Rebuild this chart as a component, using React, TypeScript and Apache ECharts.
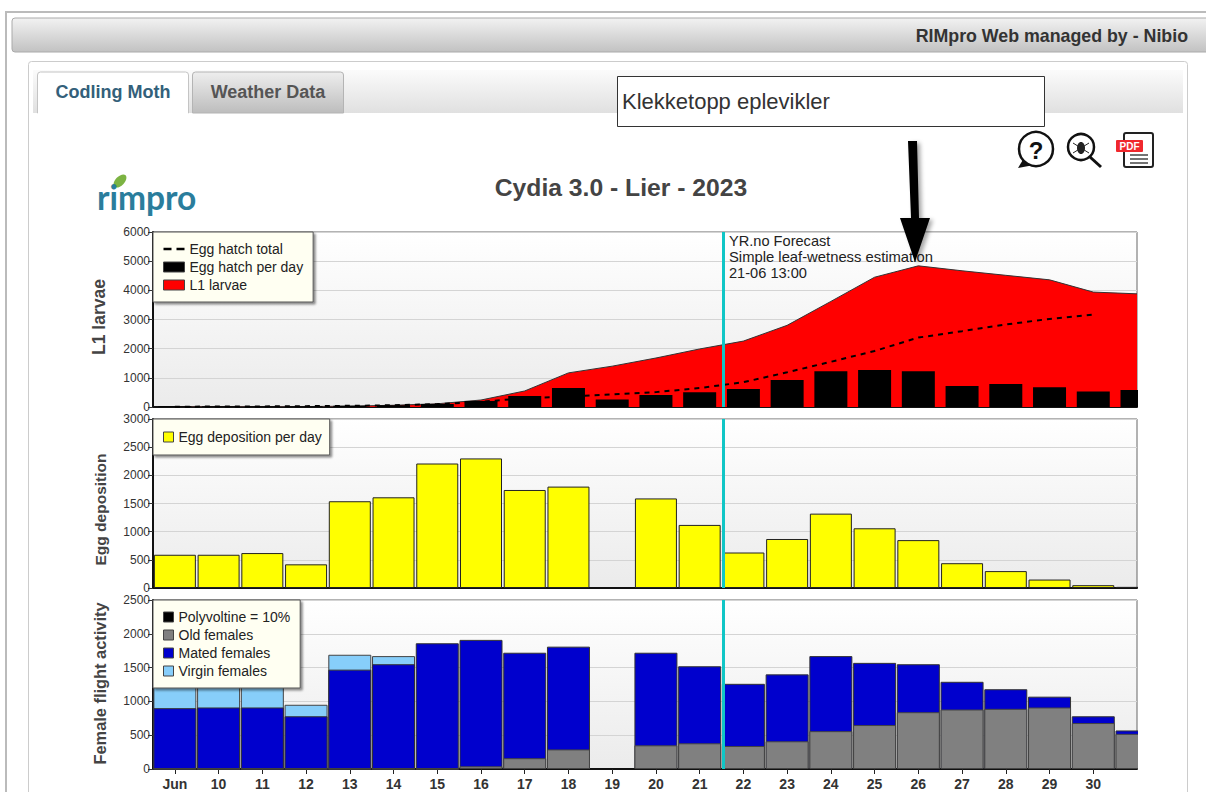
import React, { useEffect, useRef } from "react";
import * as echarts from "echarts";

const dayLabels = ["Jun","10","11","12","13","14","15","16","17","18","19","20","21","22","23","24","25","26","27","28","29","30"];
const dayIndex = [0,1,2,3,4,5,6,7,8,9,10,11,12,13,14,15,16,17,18,19,20,21];
const pointIndex = [...dayIndex, 22];

const l1Larvae = [5,5,8,15,30,60,110,240,550,1170,1400,1680,1990,2260,2800,3620,4450,4840,4670,4515,4360,3940,3880];
const eggHatchTotal = [10,15,20,30,40,60,100,180,300,360,430,510,650,850,1190,1550,1920,2380,2600,2830,3020,3170,null];
const eggHatchPerDay = [30,30,30,30,40,60,100,210,380,650,260,410,510,620,930,1230,1270,1230,720,790,680,530,580];
const eggDeposition = [590,590,620,420,1540,1610,2210,2300,1740,1800,null,1590,1120,630,870,1320,1060,850,440,300,150,50,20];
// Female flight activity, read as the height each layer reaches in the pile
const oldFemalesTop = [0,0,0,0,0,0,0,40,160,290,null,350,380,340,410,560,650,840,880,890,910,680,520];
const matedFemalesTop = [900,910,910,780,1470,1550,1860,1910,1720,1810,null,1720,1520,1260,1400,1670,1570,1550,1290,1180,1070,780,570];
const virginFemalesTop = [1450,1450,1450,950,1690,1670,null,null,null,null,null,null,null,null,null,null,null,null,null,null,null,null,null];
const polyvoltine: (number | null)[] = [];

const forecastAt = 12.53;
const AXIS_FONT = "Liberation Sans, Arial, sans-serif";

const pairs = (v: (number | null)[]) => pointIndex.map((x, i) => [x, v[i]]);

function App() {
  const ref = useRef<HTMLDivElement>(null);
  useEffect(() => {
    document.body.style.margin = "0";
    const chart = echarts.init(ref.current!, null, { renderer: "svg" });
    const panelFill = {
      type: "linear", x: 0, y: 0, x2: 0, y2: 1,
      colorStops: [{ offset: 0, color: "#ffffff" }, { offset: 1, color: "#ebebeb" }],
    };
    const grids = [
      { left: 153, width: 984, top: 232, height: 175 },
      { left: 153, width: 984, top: 419, height: 169 },
      { left: 153, width: 984, top: 600, height: 169 },
    ].map((g) => ({ ...g, show: true, backgroundColor: panelFill, borderColor: "#666", borderWidth: 1 }));

    const xAxis = [0, 1, 2].map((i) => ({
      type: "value", gridIndex: i, min: -0.5, max: 22, splitLine: { show: false },
      axisLine: { show: true, onZero: false, lineStyle: { color: "#111", width: 2 } },
      axisTick: { show: i === 2, length: 5, customValues: dayIndex, lineStyle: { color: "#222" } },
      axisLabel: {
        show: i === 2, customValues: dayIndex, margin: 8, fontFamily: AXIS_FONT,
        fontSize: 14, fontWeight: "bold", color: "#333",
        formatter: (v: number) => dayLabels[v] ?? "",
      },
    }));
    const yNames = ["L1 larvae", "Egg deposition", "Female flight activity"];
    const yNameSize = [17.5, 15.5, 16.4];
    const yNamePad = [[0, 0, 0, 5], [0, 12, 0, 0], [0, 0, 0, 2]];
    const yMax = [6000, 3000, 2500];
    const yStep = [1000, 500, 500];
    const yAxis = [0, 1, 2].map((i) => ({
      type: "value", gridIndex: i, min: 0, max: yMax[i], interval: yStep[i],
      name: yNames[i], nameLocation: "middle", nameGap: 45,
      nameTextStyle: { fontFamily: AXIS_FONT, fontSize: yNameSize[i], fontWeight: "bold", color: "#444", padding: yNamePad[i] },
      axisLine: { show: true, onZero: false, lineStyle: { color: "#111", width: 2 } },
      axisTick: { show: true, length: 5, lineStyle: { color: "#333" } },
      axisLabel: { margin: 3, fontFamily: AXIS_FONT, fontSize: 12, color: "#333", formatter: (v: number) => String(v) },
      splitLine: { show: true, lineStyle: { color: "#d4d4d4", width: 1 } },
    }));
    const forecastLine = {
      silent: true, symbol: "none", label: { show: false },
      lineStyle: { color: "#10c6c6", width: 3, type: "solid" },
      data: [{ xAxis: forecastAt }],
    };
    const legendBase = {
      left: 153, orient: "vertical", selectedMode: false, backgroundColor: "#fffff2",
      borderColor: "#555", borderWidth: 1, shadowColor: "rgba(0,0,0,0.45)", shadowBlur: 2,
      shadowOffsetX: 2, shadowOffsetY: 2, itemGap: 2, itemHeight: 10,
      textStyle: { fontFamily: AXIS_FONT, fontSize: 14, color: "#222", lineHeight: 16 },
    };
    const box = (color: string, border = "#444") => ({
      icon: "rect", itemStyle: { color, borderColor: border, borderWidth: 1 },
    });

    const shapes: any[] = [
      // page chrome
      { type: "rect", z: -20, shape: { x: 6, y: 12, width: 1210, height: 800 }, style: { fill: "#fff", stroke: "#bbb", lineWidth: 2 } },
      { type: "rect", z: -19, shape: { x: 12, y: 18, width: 1200, height: 34, r: 3 }, style: { stroke: "#aaa", fill: { type: "linear", x: 0, y: 0, x2: 0, y2: 1, colorStops: [{ offset: 0, color: "#f2f2f2" }, { offset: 1, color: "#c2c2c2" }] } } },
      { type: "text", z: -18, style: { x: 1188, y: 36, text: "RIMpro Web managed by - Nibio", align: "right", verticalAlign: "middle", font: `bold 17.8px ${AXIS_FONT}`, fill: "#333" } },
      { type: "rect", z: -17, shape: { x: 28.5, y: 61.5, width: 1159, height: 760, r: 3 }, style: { fill: "#fff", stroke: "#ccc" } },
      { type: "rect", z: -16, shape: { x: 33, y: 70, width: 1150, height: 43 }, style: { fill: { type: "linear", x: 0, y: 0, x2: 0, y2: 1, colorStops: [{ offset: 0, color: "#fbfbfb" }, { offset: 1, color: "#e0e0e0" }] } } },
      { type: "rect", z: -15, shape: { x: 37.5, y: 72, width: 151, height: 41, r: [3, 3, 0, 0] }, style: { fill: "#fff", stroke: "#c4c4c4" } },
      { type: "rect", z: -15, shape: { x: 192.5, y: 72, width: 151, height: 41, r: [3, 3, 0, 0] }, style: { stroke: "#b4b4b4", fill: { type: "linear", x: 0, y: 0, x2: 0, y2: 1, colorStops: [{ offset: 0, color: "#eeeeee" }, { offset: 1, color: "#bdbdbd" }] } } },
      { type: "rect", z: -15, shape: { x: 38, y: 110, width: 150, height: 6 }, style: { fill: "#fff" } },
      { type: "text", z: -14, style: { x: 113, y: 92, text: "Codling Moth", align: "center", verticalAlign: "middle", font: `bold 18px ${AXIS_FONT}`, fill: "#33607a" } },
      { type: "text", z: -14, style: { x: 268, y: 92, text: "Weather Data", align: "center", verticalAlign: "middle", font: `bold 18px ${AXIS_FONT}`, fill: "#555" } },
      { type: "rect", z: -13, shape: { x: 617.5, y: 76.5, width: 427, height: 50 }, style: { fill: "#fff", stroke: "#333" } },
      { type: "text", z: -12, style: { x: 622, y: 101, text: "Klekketopp eplevikler", verticalAlign: "middle", font: `22px ${AXIS_FONT}`, fill: "#333" } },
      // logo
      { type: "ellipse", z: -12, rotation: 0.8, x: 120, y: 181, shape: { cx: 0, cy: 0, rx: 8, ry: 4.5 }, style: { fill: "#7cb342" } },
      { type: "text", z: -12, style: { x: 97, y: 197, text: "rimpro", verticalAlign: "middle", font: "bold 33.5px Lato, sans-serif", fill: "#2a7d9c" } },
      // help icon
      { type: "polygon", z: -12, shape: { points: [[1024, 158], [1018, 168], [1034, 165]] }, style: { fill: "#111" } },
      { type: "circle", z: -11, shape: { cx: 1036, cy: 149, r: 17 }, style: { fill: "#fff", stroke: "#111", lineWidth: 2.5 } },
      { type: "text", z: -10, style: { x: 1036, y: 150, text: "?", align: "center", verticalAlign: "middle", font: `bold 24px ${AXIS_FONT}`, fill: "#111" } },
      // lens icon
      { type: "line", z: -12, shape: { x1: 1090, y1: 157, x2: 1101, y2: 167 }, style: { stroke: "#111", lineWidth: 3 } },
      { type: "circle", z: -11, shape: { cx: 1081, cy: 147, r: 13 }, style: { fill: "#fff", stroke: "#111", lineWidth: 2.5 } },
      { type: "ellipse", z: -10, shape: { cx: 1081, cy: 148, rx: 4, ry: 6 }, style: { fill: "#222" } },
      { type: "line", z: -10, shape: { x1: 1073, y1: 143, x2: 1089, y2: 153 }, style: { stroke: "#222", lineWidth: 1 } },
      { type: "line", z: -10, shape: { x1: 1089, y1: 143, x2: 1073, y2: 153 }, style: { stroke: "#222", lineWidth: 1 } },
      // pdf icon
      { type: "rect", z: -12, shape: { x: 1124, y: 133, width: 29, height: 34, r: 2 }, style: { fill: "#fff", stroke: "#222", lineWidth: 2 } },
      { type: "line", z: -11, shape: { x1: 1130, y1: 155, x2: 1148, y2: 155 }, style: { stroke: "#444", lineWidth: 1.5 } },
      { type: "line", z: -11, shape: { x1: 1130, y1: 159, x2: 1148, y2: 159 }, style: { stroke: "#444", lineWidth: 1.5 } },
      { type: "line", z: -11, shape: { x1: 1130, y1: 163, x2: 1148, y2: 163 }, style: { stroke: "#444", lineWidth: 1.5 } },
      { type: "rect", z: -11, shape: { x: 1116, y: 140, width: 27, height: 12, r: 1 }, style: { fill: "#f0282d" } },
      { type: "text", z: -10, style: { x: 1129.5, y: 146.5, text: "PDF", align: "center", verticalAlign: "middle", font: `bold 10px ${AXIS_FONT}`, fill: "#fff" } },
      // the last, unfinished day is cut off at the plot's right edge
      { type: "rect", z: 30, shape: { x: 1138, y: 225, width: 30, height: 552 }, style: { fill: "#fff" } },
      // forecast note
      { type: "text", z: 40, style: { x: 729, y: 240.5, text: "YR.no Forecast", verticalAlign: "middle", font: `14.6px ${AXIS_FONT}`, fill: "#222" } },
      { type: "text", z: 40, style: { x: 729, y: 256.5, text: "Simple leaf-wetness estimation", verticalAlign: "middle", font: `14.8px ${AXIS_FONT}`, fill: "#222" } },
      { type: "text", z: 40, style: { x: 729, y: 273, text: "21-06 13:00", verticalAlign: "middle", font: `14.6px ${AXIS_FONT}`, fill: "#222" } },
      // arrow
      { type: "polygon", z: 50, shape: { points: [[908, 141], [917, 141], [919, 218], [930, 218], [915, 262], [900, 218], [911, 218]] }, style: { fill: "#000", shadowBlur: 4, shadowColor: "rgba(0,0,0,0.35)", shadowOffsetX: 3, shadowOffsetY: 2 } },
    ];

    const femaleBar = { type: "bar", xAxisIndex: 2, yAxisIndex: 2, z: 3, barWidth: 43, barGap: "-100%" };

    chart.setOption({
      animation: false,
      backgroundColor: "#fff",
      tooltip: { show: false },
      title: {
        text: "Cydia 3.0 - Lier - 2023", left: 616, top: 170, textAlign: "center",
        textStyle: { fontFamily: AXIS_FONT, fontSize: 24.7, fontWeight: "bold", color: "#444" },
      },
      grid: grids, xAxis, yAxis,
      legend: [
        { ...legendBase, top: 232, padding: [9, 10, 9, 10], itemWidth: 21,
          data: [
            { name: "Egg hatch total", icon: "path://M0 4h8v2.4H0z M13 4h8v2.4h-8z", itemStyle: { color: "#000" } },
            { name: "Egg hatch per day", ...box("#000") },
            { name: "L1 larvae", ...box("#ff0000") },
          ] },
        { ...legendBase, top: 419, padding: [10, 8, 10, 10], itemWidth: 10,
          data: [{ name: "Egg deposition per day", ...box("#ffff00") }] },
        { ...legendBase, top: 600, padding: [9, 10, 9, 10], itemWidth: 10,
          data: [
            { name: "Polyvoltine = 10%", ...box("#000") },
            { name: "Old females", ...box("#808080") },
            { name: "Mated females", ...box("#0000cd") },
            { name: "Virgin females", ...box("#87cefa") },
          ] },
      ],
      graphic: { elements: shapes },
      series: [
        { name: "L1 larvae", type: "line", xAxisIndex: 0, yAxisIndex: 0, z: 2, data: pairs(l1Larvae), symbol: "none",
          lineStyle: { color: "#333", width: 1 }, areaStyle: { color: "#ff0000", opacity: 1 } },
        { name: "Egg hatch total", type: "line", xAxisIndex: 0, yAxisIndex: 0, z: 3, data: pairs(eggHatchTotal), symbol: "none",
          itemStyle: { color: "#000" }, lineStyle: { color: "#000", width: 2, type: [5, 5] } },
        { name: "Egg hatch per day", type: "bar", xAxisIndex: 0, yAxisIndex: 0, z: 4, barWidth: 33, data: pairs(eggHatchPerDay),
          itemStyle: { color: "#000" }, markLine: forecastLine },
        { name: "Egg deposition per day", type: "bar", xAxisIndex: 1, yAxisIndex: 1, z: 3, barWidth: 42, data: pairs(eggDeposition),
          itemStyle: { color: "#ffff00", borderColor: "#222", borderWidth: 1 }, markLine: forecastLine },
        { ...femaleBar, name: "Virgin females", data: pairs(virginFemalesTop),
          itemStyle: { color: "#87cefa", borderColor: "#444", borderWidth: 1 }, markLine: forecastLine },
        { ...femaleBar, name: "Mated females", data: pairs(matedFemalesTop),
          itemStyle: { color: "#0000cd", borderColor: "#333", borderWidth: 1 } },
        { ...femaleBar, name: "Old females", data: pairs(oldFemalesTop),
          itemStyle: { color: "#808080", borderColor: "#444", borderWidth: 1 } },
        { ...femaleBar, name: "Polyvoltine = 10%", data: polyvoltine, itemStyle: { color: "#000" } },
      ],
    });
    return () => chart.dispose();
  }, []);
  return <div ref={ref} style={{ position: "absolute", left: 0, top: 0, width: 1206, height: 792 }} />;
}

export default App;
